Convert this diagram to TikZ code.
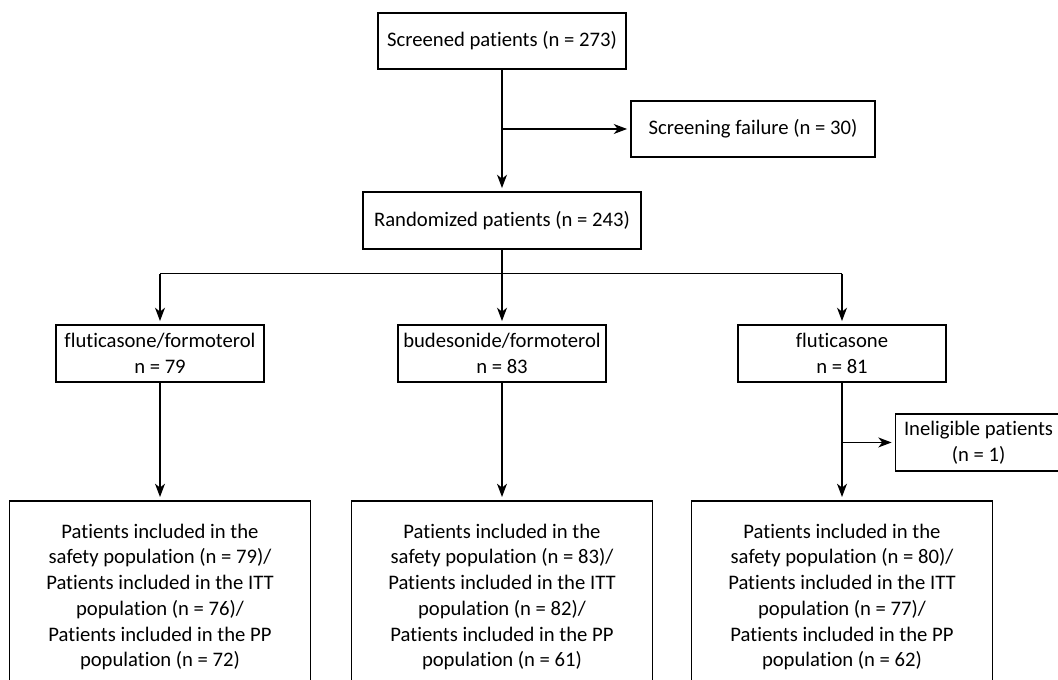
\documentclass[tikz,border=0pt]{standalone}
\usepackage{fontspec}
\setmainfont{Carlito}[Ligatures=CommonOff]
\usetikzlibrary{arrows.meta}
\tikzstyle{stepbox} = [rectangle, draw=black, line width=0.9pt, align=center, inner sep=0pt]
\tikzstyle{arrow} = [line width=0.9pt, shorten >=2.5pt, -{Stealth[length=10pt, width=7.5pt, inset=3pt]}]
\tikzstyle{line} = [line width=0.9pt]

\begin{document}
\begin{tikzpicture}[node distance=2cm, font=\fontsize{15.5}{19.3}\selectfont]
\clip (0,0) rectangle (793.5pt,-510pt);

\node (scr) [stepbox, minimum width=186pt, minimum height=42pt] at (376.5pt,-30.75pt) {Screened patients (n = 273)};
\node (fail) [stepbox, minimum width=183pt, minimum height=42pt, right of=scr, node distance=188.25pt, yshift=-66pt] {Screening failure (n = 30)};
\node (rand) [stepbox, minimum width=208.5pt, minimum height=42.75pt, below of=scr, node distance=134.6pt] {Randomized patients (n = 243)};

\node (arm2) [stepbox, minimum width=156pt, minimum height=42.75pt, below of=rand, node distance=99.75pt] {budesonide/formoterol\\n = 83};
\node (arm1) [stepbox, minimum width=156pt, minimum height=42.75pt, left of=arm2, node distance=256.5pt] {fluticasone/formoterol\\n = 79};
\node (arm3) [stepbox, minimum width=156pt, minimum height=42.75pt, right of=arm2, node distance=255pt] {fluticasone\\n = 81};
\node (inel) [stepbox, minimum width=124.5pt, minimum height=42.75pt, right of=arm3, node distance=102.4pt, yshift=-66.75pt] {Ineligible patients\\(n = 1)};

\node (pop1) [stepbox, minimum width=225.75pt, minimum height=144pt, below of=arm1, node distance=182.6pt] {Patients included in the\\safety population (n = 79)/\\Patients included in the ITT\\population (n = 76)/\\Patients included in the PP\\population (n = 72)};
\node (pop2) [stepbox, minimum width=225.75pt, minimum height=144pt, below of=arm2, node distance=182.6pt] {Patients included in the\\safety population (n = 83)/\\Patients included in the ITT\\population (n = 82)/\\Patients included in the PP\\population (n = 61)};
\node (pop3) [stepbox, minimum width=225.75pt, minimum height=144pt, below of=arm3, node distance=182.6pt] {Patients included in the\\safety population (n = 80)/\\Patients included in the ITT\\population (n = 77)/\\Patients included in the PP\\population (n = 62)};

% screening
\draw[arrow] (scr) -- (rand);
\draw[arrow] (scr.south |- fail.west) -- (fail.west);

% randomization
\draw[line] (rand.south) -- ++(0,-18pt) coordinate (split);
\draw[line] (arm1.north |- split) -- (arm3.north |- split);
\draw[arrow] (arm1.north |- split) -- (arm1.north);
\draw[arrow] (rand) -- (arm2);
\draw[arrow] (arm3.north |- split) -- (arm3.north);

% populations
\draw[arrow] (arm1) -- (pop1);
\draw[arrow] (arm2) -- (pop2);
\draw[arrow] (arm3.south) -- (arm3.south |- pop3.north);
\draw[arrow] (arm3.south |- inel.west) -- (inel.west);

\end{tikzpicture}
\end{document}
